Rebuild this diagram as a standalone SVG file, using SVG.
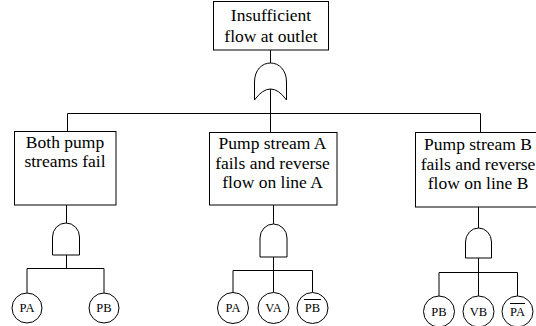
<svg xmlns="http://www.w3.org/2000/svg" width="536" height="326" viewBox="0 0 536 326">
<style>
.box{fill:#fff;stroke:#000;stroke-width:1}
.gate{fill:#fff;stroke:#000;stroke-width:1}
.ln{fill:none;stroke:#000;stroke-width:1}
text{font-family:'Liberation Serif','Times New Roman','DejaVu Serif',serif;fill:#000;text-anchor:middle}
.t{font-size:17.5px}
.ev{font-size:12.5px}
</style>
<rect width="536" height="326" fill="#fff"/>
<g id="connectors">
<path class="ln" d="M270.5,50 V63"/>
<path class="ln" d="M270.5,89 V132"/>
<path class="ln" d="M67.5,113.5 H480.5"/>
<path class="ln" d="M67.5,113.5 V131"/>
<path class="ln" d="M480.5,113.5 V132"/>
<path class="ln" d="M66.5,205 V223 M66.5,255 V268.5 M27,268.5 H104 M27,268.5 V293 M104,268.5 V293"/>
<path class="ln" d="M273.5,205 V224 M273.5,257 V270.5 M233,270.5 H312.5 M233,270.5 V292.5 M273.5,270.5 V292.5 M312.5,270.5 V292.5"/>
<path class="ln" d="M478.5,207 V228 M478.5,258 V272.5 M439,272.5 H517.5 M439,272.5 V296 M478.5,272.5 V296 M517.5,272.5 V296"/>
</g>
<g id="top">
<rect class="box" x="213.5" y="1.5" width="115" height="48.5"/>
<text class="t" x="271" y="21" font-family="Liberation Serif, serif">Insufficient</text>
<text class="t" x="271" y="42" font-family="Liberation Serif, serif">flow at outlet</text>
</g>
<g id="or-gate">
<path class="gate" d="M254.5,100 L254.5,82 C254.5,70 262,63 270.5,63 C279,63 286.5,70 286.5,82 L286.5,100 Q270.5,78 254.5,100 Z"/>
</g>
<g id="box1">
<rect class="box" x="14.5" y="131.5" width="101.5" height="73.5"/>
<text class="t" x="65" y="148">Both pump</text>
<text class="t" x="65" y="167">streams fail</text>
</g>
<g id="box2">
<rect class="box" x="209.5" y="132.5" width="127.5" height="72.5"/>
<text class="t" x="272.5" y="149">Pump stream A</text>
<text class="t" x="272.5" y="168.5">fails and reverse</text>
<text class="t" x="272.5" y="188">flow on line A</text>
</g>
<g id="box3">
<rect class="box" x="415.5" y="132.5" width="126" height="74.5"/>
<text class="t" x="478" y="150">Pump stream B</text>
<text class="t" x="478" y="169.5">fails and reverse</text>
<text class="t" x="478" y="189">flow on line B</text>
</g>
<g id="and1">
<path class="gate" d="M52.5,255 V237 A13.5,14 0 0 1 79.5,237 V255 Z"/>
</g>
<g id="and2">
<path class="gate" d="M260,257 V238 A13.5,14 0 0 1 287,238 V257 Z"/>
</g>
<g id="and3">
<path class="gate" d="M465.5,258 V242 A13,14 0 0 1 491.5,242 V258 Z"/>
</g>
<g id="ev-PA1"><circle class="gate" cx="27" cy="308" r="15"/><text class="ev" x="27" y="312">PA</text></g>
<g id="ev-PB1"><circle class="gate" cx="104" cy="308" r="15"/><text class="ev" x="104" y="312">PB</text></g>
<g id="ev-PA2"><circle class="gate" cx="233" cy="308" r="15.5"/><text class="ev" x="233" y="312">PA</text></g>
<g id="ev-VA"><circle class="gate" cx="273.5" cy="308" r="15.5"/><text class="ev" x="273.5" y="312">VA</text></g>
<g id="ev-PBbar"><circle class="gate" cx="312.5" cy="308" r="15.5"/><text class="ev" x="312.5" y="312">PB</text><path class="ln" d="M304,299.5 H321"/></g>
<g id="ev-PB3"><circle class="gate" cx="439" cy="311.5" r="15.5"/><text class="ev" x="439" y="315.5">PB</text></g>
<g id="ev-VB"><circle class="gate" cx="478.5" cy="311.5" r="15.5"/><text class="ev" x="478.5" y="315.5">VB</text></g>
<g id="ev-PAbar"><circle class="gate" cx="517.5" cy="311.5" r="15.5"/><text class="ev" x="517.5" y="315.5">PA</text><path class="ln" d="M510,303.5 H525"/></g>
</svg>
